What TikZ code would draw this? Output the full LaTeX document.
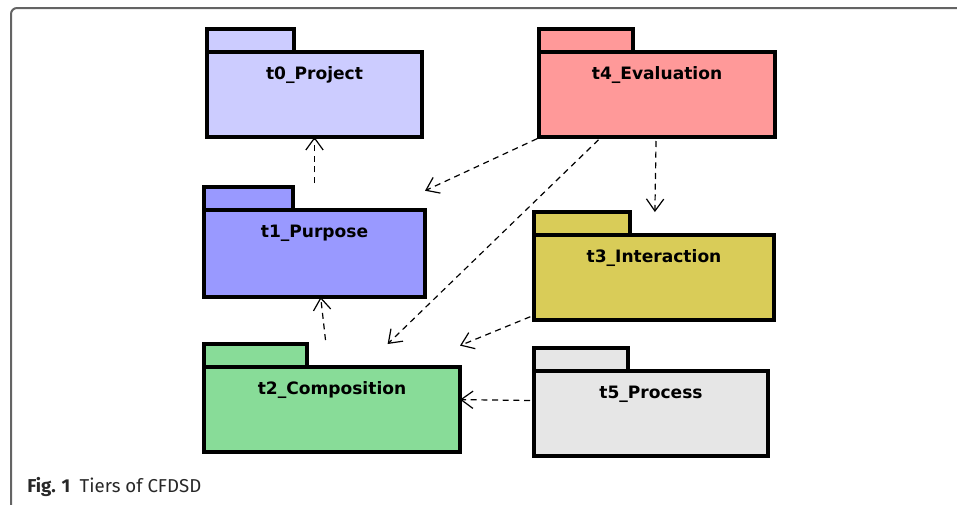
\documentclass[tikz,border=0pt]{standalone}
\usepackage{fontspec}
\usepackage{tikz}
\usetikzlibrary{arrows.meta, positioning, fit}

\newfontfamily\pkgfont{DejaVu Sans}
\newfontfamily\capfont{Fira Sans}

\tikzset{
  pkgbody/.style={draw, line width=2.6pt, outer sep=0pt, inner sep=0pt,
    anchor=north west, text height=20.25pt, text depth=43.5pt,
    font=\pkgfont\bfseries\fontsize{12.8}{14}\selectfont},
  pkgtab/.style={draw, line width=2.6pt, outer sep=0pt, inner sep=0pt,
    minimum height=17.25pt, above right=0pt and 0pt of #1},
  pkgbox/.style={inner sep=0pt, outer sep=0pt},
  dep/.style={line width=0.9pt, dash pattern=on 4.5pt off 3.5pt,
    -{Straight Barb[length=9pt, width=13pt, line width=0.9pt]},
    shorten <=3pt},
}

\begin{document}
\begin{tikzpicture}[x=0.75pt,y=0.75pt,yscale=-1,xscale=1]
        \useasboundingbox (0,0) rectangle (957,504);

        %Frame
        \draw [color={rgb, 255:red, 100; green, 100; blue, 100 }, line width=1.5pt, rounded corners=4.5pt] (11,520) -- (11,8) -- (975,8) ;

        %Package: t0
        \node [pkgbody, fill={rgb, 255:red, 204; green, 204; blue, 255 }, minimum width=161.25pt] (t0) at (207,52) {t0\_Project};
        \node [pkgtab=t0.north west, fill={rgb, 255:red, 204; green, 204; blue, 255 }, minimum width=65.25pt] (t0tab) {};
        \node [pkgbox, fit=(t0)(t0tab)] (p0) {};

        %Package: t4
        \node [pkgbody, fill={rgb, 255:red, 255; green, 153; blue, 153 }, minimum width=177pt] (t4) at (539,52) {t4\_Evaluation};
        \node [pkgtab=t4.north west, fill={rgb, 255:red, 255; green, 153; blue, 153 }, minimum width=70.5pt] (t4tab) {};
        \node [pkgbox, fit=(t4)(t4tab)] (p4) {};

        %Package: t1
        \node [pkgbody, fill={rgb, 255:red, 153; green, 153; blue, 255 }, minimum width=165.75pt, text depth=45pt] (t1) at (204,210) {t1\_Purpose};
        \node [pkgtab=t1.north west, fill={rgb, 255:red, 153; green, 153; blue, 255 }, minimum width=66.75pt] (t1tab) {};
        \node [pkgbox, fit=(t1)(t1tab)] (p1) {};

        %Package: t3
        \node [pkgbody, fill={rgb, 255:red, 217; green, 204; blue, 88 }, minimum width=180pt] (t3) at (534,235) {t3\_Interaction};
        \node [pkgtab=t3.north west, fill={rgb, 255:red, 217; green, 204; blue, 88 }, minimum width=72pt] (t3tab) {};
        \node [pkgbox, fit=(t3)(t3tab)] (p3) {};

        %Package: t2
        \node [pkgbody, fill={rgb, 255:red, 136; green, 220; blue, 152 }, minimum width=192pt] (t2) at (204,367) {t2\_Composition};
        \node [pkgtab=t2.north west, fill={rgb, 255:red, 136; green, 220; blue, 152 }, minimum width=77.25pt] (t2tab) {};
        \node [pkgbox, fit=(t2)(t2tab)] (p2) {};

        %Package: t5
        \node [pkgbody, fill={rgb, 255:red, 230; green, 230; blue, 230 }, minimum width=175.5pt] (t5) at (534,371) {t5\_Process};
        \node [pkgtab=t5.north west, fill={rgb, 255:red, 230; green, 230; blue, 230 }, minimum width=70.5pt] (t5tab) {};
        \node [pkgbox, fit=(t5)(t5tab)] (p5) {};

        %Dependencies
        \draw [dep] (p1) -- (p0) ;
        \draw [dep] (p2) -- (p1) ;
        \draw [dep] (p4) -- (p1) ;
        \draw [dep] (p4) -- (p2) ;
        \draw [dep] (p4) -- (p3) ;
        \draw [dep] (p3) -- (p2) ;
        \draw [dep] (p5) -- (p2) ;

        % Text Node
        \node [anchor=base west, inner sep=0pt, font=\capfont\fontsize{14}{16}\selectfont, color={rgb, 255:red, 40; green, 40; blue, 40 }] (caption) at (27,492) {\textbf{Fig. 1}\hspace{0.5em}Tiers of CFDSD};

\end{tikzpicture}
\end{document}
